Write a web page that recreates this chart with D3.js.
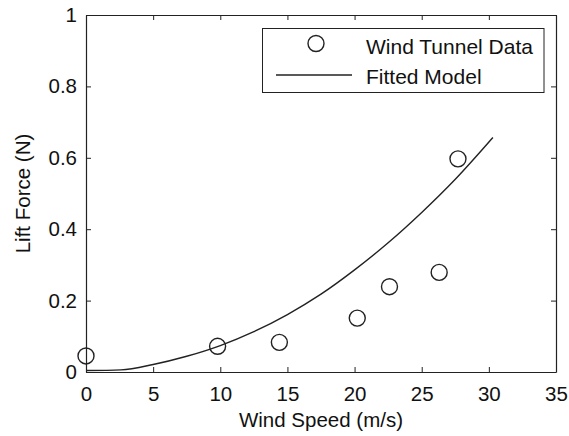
<!DOCTYPE html>
<html>
<head>
<meta charset="utf-8">
<script src="https://cdn.jsdelivr.net/npm/d3@7"></script>
<style>
  html, body { margin: 0; padding: 0; background: #fff; }
  svg { display: block; font-family: "Liberation Sans", Arial, sans-serif; }
</style>
</head>
<body>
<svg id="chart" width="569" height="436"></svg>
<script>
// Measured lift force at each wind speed
const windSpeed = [0, 9.8, 14.4, 20.2, 22.6, 26.3, 27.7];
const liftForce = [0.045, 0.072, 0.083, 0.151, 0.239, 0.279, 0.597];

// Fitted model curve
const modelSpeed = [0, 2.6, 5, 7.5, 10, 12.5, 15, 17.5, 20, 22.5, 25, 27.5, 30.3];
const modelForce = [0.004, 0.006, 0.021, 0.044, 0.074, 0.113, 0.161, 0.218, 0.286, 0.362, 0.447, 0.540, 0.657];

const xTicks = [0, 5, 10, 15, 20, 25, 30, 35];
const yTicks = [0, 0.2, 0.4, 0.6, 0.8, 1];
const legendLabels = ["Wind Tunnel Data", "Fitted Model"];

const svg = d3.select("#chart");
const plot = { left: 86, right: 556, top: 15, bottom: 372 };
const ink = "#222";
const fontSize = 20.5;

const x = d3.scaleLinear().domain([0, 35]).range([plot.left, plot.right]);
const y = d3.scaleLinear().domain([0, 1]).range([plot.bottom, plot.top]);

// Axes with inward ticks on all four sides
const tickLen = 5;
const fmt = d => d === 0 ? "0" : (d === 1 ? "1" : d3.format(".1f")(d));

const gB = svg.append("g").attr("transform", `translate(0,${plot.bottom})`)
  .call(d3.axisBottom(x).tickValues(xTicks).tickSizeInner(-tickLen).tickSizeOuter(0).tickPadding(14).tickFormat(d3.format("d")));
const gT = svg.append("g").attr("transform", `translate(0,${plot.top})`)
  .call(d3.axisTop(x).tickValues(xTicks).tickSizeInner(-tickLen).tickSizeOuter(0).tickFormat(""));
const gL = svg.append("g").attr("transform", `translate(${plot.left},0)`)
  .call(d3.axisLeft(y).tickValues(yTicks).tickSizeInner(-tickLen).tickSizeOuter(0).tickPadding(9).tickFormat(fmt));
const gR = svg.append("g").attr("transform", `translate(${plot.right},0)`)
  .call(d3.axisRight(y).tickValues(yTicks).tickSizeInner(-tickLen).tickSizeOuter(0).tickFormat(""));

[gB, gT, gL, gR].forEach(g => {
  g.select(".domain").attr("stroke", ink).attr("stroke-width", 1.2);
  g.selectAll(".tick line").attr("stroke", ink).attr("stroke-width", 1);
  g.selectAll(".tick text").attr("fill", "#111").attr("font-size", fontSize)
    .attr("font-family", "Liberation Sans, Arial, sans-serif");
});

// Fitted model line
const line = d3.line()
  .x((d, i) => x(modelSpeed[i]))
  .y((d, i) => y(modelForce[i]))
  .curve(d3.curveMonotoneX);
svg.append("path")
  .datum(modelForce)
  .attr("d", line)
  .attr("fill", "none")
  .attr("stroke", ink)
  .attr("stroke-width", 1.4);

// Measured data as open circles
svg.append("g").selectAll("circle")
  .data(liftForce)
  .join("circle")
  .attr("cx", (d, i) => x(windSpeed[i]))
  .attr("cy", d => y(d))
  .attr("r", 8)
  .attr("fill", "none")
  .attr("stroke", ink)
  .attr("stroke-width", 1.4);

// Axis titles
svg.append("text")
  .attr("x", (plot.left + plot.right) / 2)
  .attr("y", 427)
  .attr("text-anchor", "middle")
  .attr("font-size", fontSize)
  .attr("fill", "#111")
  .text("Wind Speed (m/s)");

svg.append("text")
  .attr("transform", `translate(30,${(plot.top + plot.bottom) / 2}) rotate(-90)`)
  .attr("text-anchor", "middle")
  .attr("font-size", fontSize)
  .attr("fill", "#111")
  .text("Lift Force (N)");

// Legend
const leg = svg.append("g");
leg.append("rect")
  .attr("x", 262.5).attr("y", 28.5)
  .attr("width", 281.5).attr("height", 64)
  .attr("fill", "#fff")
  .attr("stroke", ink)
  .attr("stroke-width", 1);
leg.append("circle")
  .attr("cx", 316).attr("cy", 43.5).attr("r", 8)
  .attr("fill", "none").attr("stroke", ink).attr("stroke-width", 1.4);
leg.append("line")
  .attr("x1", 276).attr("x2", 352).attr("y1", 75).attr("y2", 75)
  .attr("stroke", ink).attr("stroke-width", 1.4);
leg.selectAll("text.lbl")
  .data(legendLabels)
  .join("text")
  .attr("class", "lbl")
  .attr("x", 366)
  .attr("y", (d, i) => 54 + i * 30)
  .attr("font-size", 21)
  .attr("fill", "#111")
  .text(d => d);
</script>
</body>
</html>
